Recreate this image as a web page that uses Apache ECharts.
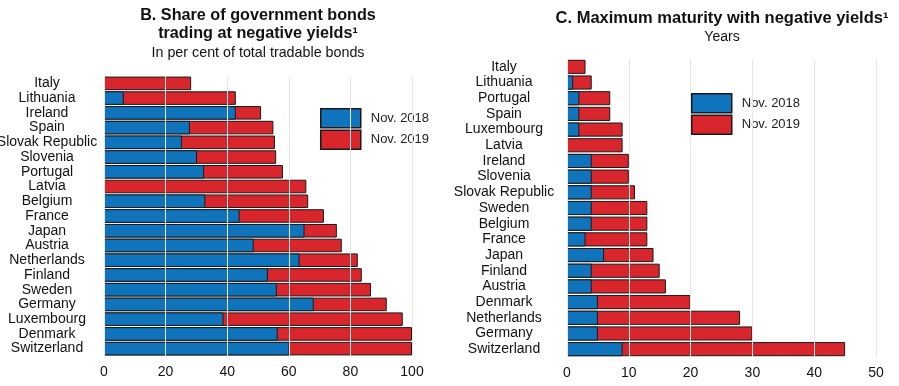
<!DOCTYPE html>
<html>
<head>
<meta charset="utf-8">
<script src="https://cdn.jsdelivr.net/npm/echarts@6/dist/echarts.min.js"></script>
<style>html,body{margin:0;padding:0;background:#fff}#c{width:899px;height:386px}</style>
</head>
<body>
<div id="c"></div>
<script>
// Panel B: share of government bonds trading at negative yields (% of total tradable bonds)
const catsB = ['Italy','Lithuania','Ireland','Spain','Slovak Republic','Slovenia','Portugal','Latvia','Belgium','France','Japan','Austria','Netherlands','Finland','Sweden','Germany','Luxembourg','Denmark','Switzerland'];
const b2018 = [0, 6.4, 42.8, 27.9, 25.3, 30.2, 32.5, 0, 32.9, 44.0, 65.1, 48.6, 63.5, 53.2, 56.1, 68.1, 38.8, 56.4, 60.2];
const b2019 = [28.3, 42.8, 51.0, 55.0, 55.5, 55.9, 58.1, 65.7, 66.3, 71.4, 75.6, 77.2, 82.4, 83.7, 86.7, 91.8, 97.0, 100, 100];

// Panel C: maximum maturity with negative yields (years)
const catsC = ['Italy','Lithuania','Portugal','Spain','Luxembourg','Latvia','Ireland','Slovenia','Slovak Republic','Sweden','Belgium','France','Japan','Finland','Austria','Denmark','Netherlands','Germany','Switzerland'];
const c2018 = [0, 1, 2, 2, 2, 0, 4, 4, 4, 4, 4, 3, 6, 4, 4, 5, 5, 5, 9];
const c2019 = [3, 4, 7, 7, 9, 9, 10, 10, 11, 13, 13, 13, 14, 15, 16, 20, 28, 30, 45];

const xTicksB = [0, 20, 40, 60, 80, 100];
const xTicksC = [0, 10, 20, 30, 40, 50];

const BLUE = '#0f74bc', RED = '#d9262c', EDGE = '#1a1a1a';
const FONT = 'Liberation Sans, Arial, sans-serif';

const chart = echarts.init(document.getElementById('c'));

function xAxisFor(idx, ticks) {
  return {
    gridIndex: idx, type: 'value', min: ticks[0], max: ticks[ticks.length - 1],
    interval: ticks[1] - ticks[0], z: 5,
    axisLine: {show: false}, axisTick: {show: false},
    axisLabel: {color: '#111', fontSize: 14, fontFamily: FONT, margin: 9},
    splitLine: {show: true, lineStyle: {color: '#e6e6e6', width: 1}}
  };
}
function yAxisFor(idx, cats, margin) {
  return {
    gridIndex: idx, type: 'category', data: cats, inverse: true,
    axisLine: {show: false}, axisTick: {show: false},
    axisLabel: {color: '#111', fontSize: 14, fontFamily: FONT, align: 'center', margin: margin, interval: 0}
  };
}
function barSeries(name, data, color, xi, gap) {
  return {
    name: name, type: 'bar', xAxisIndex: xi, yAxisIndex: xi,
    data: data.map(v => (v === 0 ? null : v)),
    barGap: '-100%', barCategoryGap: gap,
    itemStyle: {color: color, borderColor: EDGE, borderWidth: 1},
    emphasis: {disabled: true}, animation: false
  };
}

const legendText = {fontFamily: FONT, fontSize: 13, color: '#222', padding: [0, 0, 0, 5]};
const legendItem = {borderColor: EDGE, borderWidth: 1.5};

chart.setOption({
  animation: false,
  title: [
    {text: 'B. Share of government bonds\ntrading at negative yields\u00b9', left: 253, top: 2, textAlign: 'center',
     textStyle: {fontFamily: FONT, fontSize: 16.2, fontWeight: 'bold', color: '#111', lineHeight: 17.5}},
    {text: 'In per cent of total tradable bonds', left: 253, top: 41, textAlign: 'center',
     textStyle: {fontFamily: FONT, fontSize: 14.3, fontWeight: 'normal', color: '#111'}},
    {text: 'C. Maximum maturity with negative yields\u00b9', left: 717, top: 5, textAlign: 'center',
     textStyle: {fontFamily: FONT, fontSize: 16.5, fontWeight: 'bold', color: '#111'}},
    {text: 'Years', left: 717, top: 25, textAlign: 'center',
     textStyle: {fontFamily: FONT, fontSize: 14, fontWeight: 'normal', color: '#111'}}
  ],
  legend: [
    {data: ['Nov. 2018', 'Nov. 2019'], orient: 'vertical', left: 315, top: 103, itemWidth: 40, itemHeight: 19,
     itemGap: 1, icon: 'rect', selectedMode: false, textStyle: legendText, itemStyle: legendItem},
    {data: ['Nov. 2018', 'Nov. 2019'], orient: 'vertical', left: 686, top: 88, itemWidth: 40, itemHeight: 19,
     itemGap: 1, icon: 'rect', selectedMode: false, textStyle: legendText, itemStyle: legendItem}
  ],
  grid: [
    {left: 104, right: 487, top: 76, bottom: 30, outerBoundsMode: 'none', containLabel: false},
    {left: 567, right: 23, top: 59, bottom: 29, outerBoundsMode: 'none', containLabel: false}
  ],
  xAxis: [xAxisFor(0, xTicksB), xAxisFor(1, xTicksC)],
  yAxis: [yAxisFor(0, catsB, 57), yAxisFor(1, catsC, 63)],
  series: [
    barSeries('Nov. 2019', b2019, RED, 0, '8%'),
    barSeries('Nov. 2018', b2018, BLUE, 0, '8%'),
    barSeries('Nov. 2019', c2019, RED, 1, '10%'),
    barSeries('Nov. 2018', c2018, BLUE, 1, '10%')
  ]
});
</script>
</body>
</html>
